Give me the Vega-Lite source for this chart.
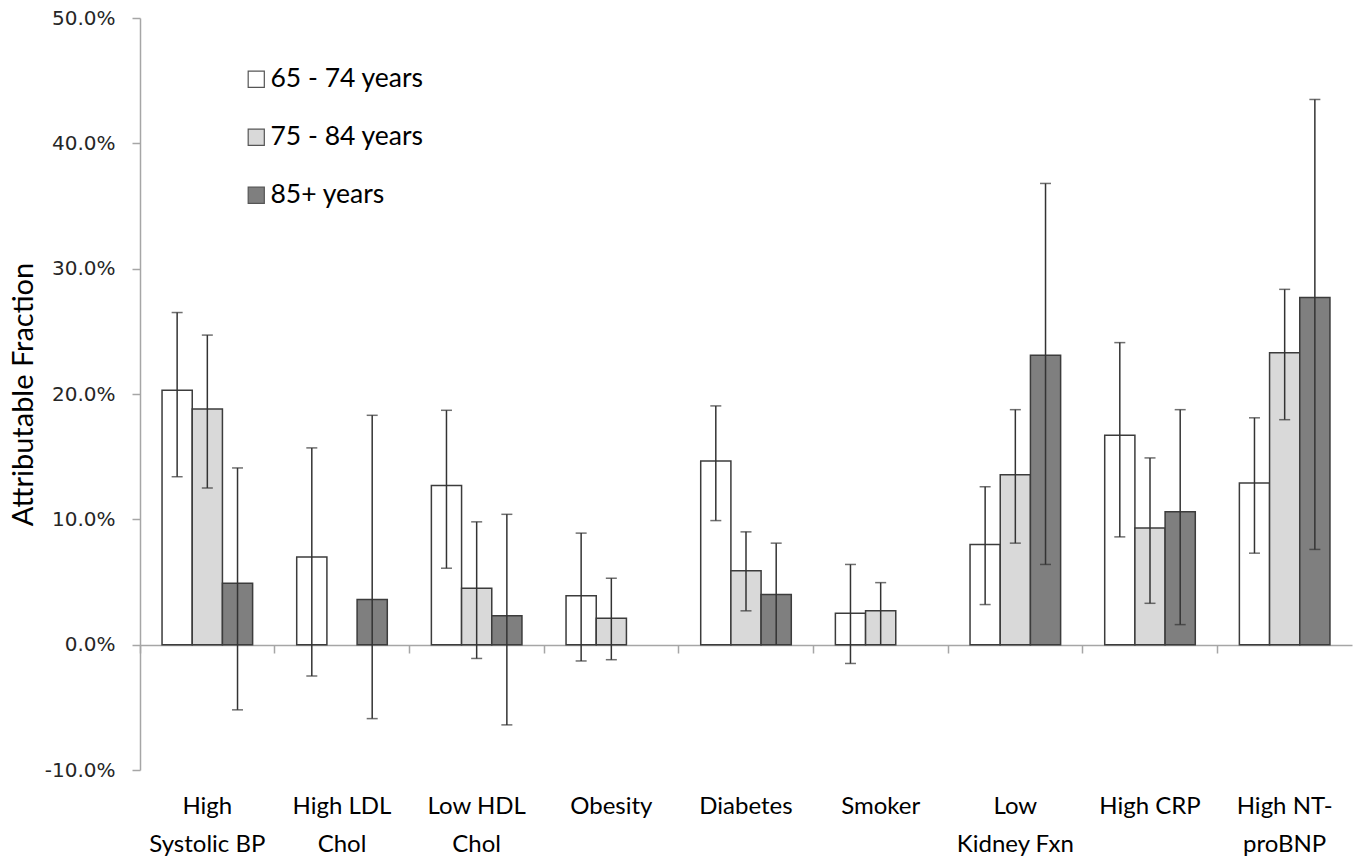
{
  "$schema": "https://vega.github.io/schema/vega-lite/v6.json",
  "width": 1212,
  "height": 752,
  "autosize": {"type": "none"},
  "padding": {"left": 140, "top": 18, "right": 7, "bottom": 93},
  "background": "white",
  "config": {"view": {"stroke": null}, "font": "Lato"},
  "data": {
    "values": [
      {"factor": "High|Systolic BP", "age": "65 - 74 years", "value": 0.203, "lo": 0.134, "hi": 0.265},
      {"factor": "High|Systolic BP", "age": "75 - 84 years", "value": 0.188, "lo": 0.125, "hi": 0.247},
      {"factor": "High|Systolic BP", "age": "85+ years", "value": 0.049, "lo": -0.052, "hi": 0.141},
      {"factor": "High LDL|Chol", "age": "65 - 74 years", "value": 0.070, "lo": -0.025, "hi": 0.157},
      {"factor": "High LDL|Chol", "age": "85+ years", "value": 0.036, "lo": -0.059, "hi": 0.183},
      {"factor": "Low HDL|Chol", "age": "65 - 74 years", "value": 0.127, "lo": 0.061, "hi": 0.187},
      {"factor": "Low HDL|Chol", "age": "75 - 84 years", "value": 0.045, "lo": -0.011, "hi": 0.098},
      {"factor": "Low HDL|Chol", "age": "85+ years", "value": 0.023, "lo": -0.064, "hi": 0.104},
      {"factor": "Obesity", "age": "65 - 74 years", "value": 0.039, "lo": -0.013, "hi": 0.089},
      {"factor": "Obesity", "age": "75 - 84 years", "value": 0.021, "lo": -0.012, "hi": 0.053},
      {"factor": "Diabetes", "age": "65 - 74 years", "value": 0.1465, "lo": 0.099, "hi": 0.1905},
      {"factor": "Diabetes", "age": "75 - 84 years", "value": 0.059, "lo": 0.027, "hi": 0.090},
      {"factor": "Diabetes", "age": "85+ years", "value": 0.040, "lo": 0, "hi": 0.081},
      {"factor": "Smoker", "age": "65 - 74 years", "value": 0.025, "lo": -0.015, "hi": 0.064},
      {"factor": "Smoker", "age": "75 - 84 years", "value": 0.027, "lo": 0, "hi": 0.0495},
      {"factor": "Low|Kidney Fxn", "age": "65 - 74 years", "value": 0.080, "lo": 0.032, "hi": 0.126},
      {"factor": "Low|Kidney Fxn", "age": "75 - 84 years", "value": 0.1355, "lo": 0.081, "hi": 0.1875},
      {"factor": "Low|Kidney Fxn", "age": "85+ years", "value": 0.231, "lo": 0.064, "hi": 0.368},
      {"factor": "High CRP", "age": "65 - 74 years", "value": 0.167, "lo": 0.086, "hi": 0.241},
      {"factor": "High CRP", "age": "75 - 84 years", "value": 0.093, "lo": 0.033, "hi": 0.149},
      {"factor": "High CRP", "age": "85+ years", "value": 0.106, "lo": 0.016, "hi": 0.1875},
      {"factor": "High NT-|proBNP", "age": "65 - 74 years", "value": 0.129, "lo": 0.073, "hi": 0.181},
      {"factor": "High NT-|proBNP", "age": "75 - 84 years", "value": 0.233, "lo": 0.1795, "hi": 0.2835},
      {"factor": "High NT-|proBNP", "age": "85+ years", "value": 0.277, "lo": 0.076, "hi": 0.435}
    ]
  },
  "encoding": {
    "x": {
      "field": "factor", "type": "nominal", "sort": null,
      "scale": {"paddingInner": 0, "paddingOuter": 0},
      "axis": {
        "title": null, "labelAngle": 0, "offset": -125, "bandPosition": 0,
        "labelExpr": "split(datum.label, '|')",
        "labelFont": "Lato", "labelFontSize": 24, "labelColor": "#000000",
        "labelLineHeight": 38, "labelPadding": 141, "labelBaseline": "top",
        "labelDx": 67.3,
        "domain": true, "domainColor": "#a6a6a6", "domainWidth": 1.5,
        "ticks": true, "tickColor": "#a6a6a6", "tickSize": 8, "tickWidth": 1.5
      }
    },
    "xOffset": {
      "field": "age", "type": "nominal", "sort": null,
      "scale": {"paddingOuter": 0.73, "paddingInner": 0}
    }
  },
  "layer": [
    {
      "mark": {"type": "bar", "stroke": "#3c3c3c", "strokeWidth": 1.5},
      "encoding": {
        "y": {
          "field": "value", "type": "quantitative",
          "scale": {"domain": [-0.1, 0.5], "nice": false, "zero": false},
          "axis": {
            "values": [-0.1, 0, 0.1, 0.2, 0.3, 0.4, 0.5],
            "labelExpr": "(datum.value < 0 ? '-' : '') + format(abs(datum.value), '.1%')",
            "grid": false,
            "domainColor": "#a6a6a6", "domainWidth": 1.5,
            "tickColor": "#a6a6a6", "tickSize": 8, "tickWidth": 1.5,
            "labelFont": "DejaVu Sans", "labelFontSize": 20, "labelColor": "#262626",
            "labelPadding": 17,
            "title": "Attributable Fraction",
            "titleFont": "Lato", "titleFontSize": 29, "titleFontWeight": "normal", "titleColor": "#000000",
            "titleAngle": -90, "titleX": -117, "titleY": 376,
            "titleAlign": "center", "titleBaseline": "middle"
          }
        },
        "fill": {
          "field": "age", "type": "nominal",
          "scale": {
            "domain": ["65 - 74 years", "75 - 84 years", "85+ years"],
            "range": ["#ffffff", "#d9d9d9", "#7f7f7f"]
          },
          "legend": {
            "orient": "none", "legendX": 103, "legendY": 48, "direction": "vertical",
            "title": null, "padding": 0,
            "symbolType": "square", "symbolSize": 260,
            "symbolStrokeColor": "#555555", "symbolStrokeWidth": 1.2,
            "labelFont": "Lato", "labelFontSize": 26.5, "labelColor": "#000000",
            "labelOffset": 1, "rowPadding": 31
          }
        }
      }
    },
    {
      "mark": {"type": "rule", "color": "#333333", "strokeWidth": 1.5},
      "encoding": {
        "y": {"field": "lo", "type": "quantitative"},
        "y2": {"field": "hi"}
      }
    },
    {
      "mark": {"type": "tick", "color": "#333333", "size": 11, "thickness": 1.5},
      "encoding": {
        "y": {"field": "hi", "type": "quantitative"}
      }
    },
    {
      "transform": [{"filter": "datum.lo != 0"}],
      "mark": {"type": "tick", "color": "#333333", "size": 11, "thickness": 1.5},
      "encoding": {
        "y": {"field": "lo", "type": "quantitative"}
      }
    }
  ]
}
